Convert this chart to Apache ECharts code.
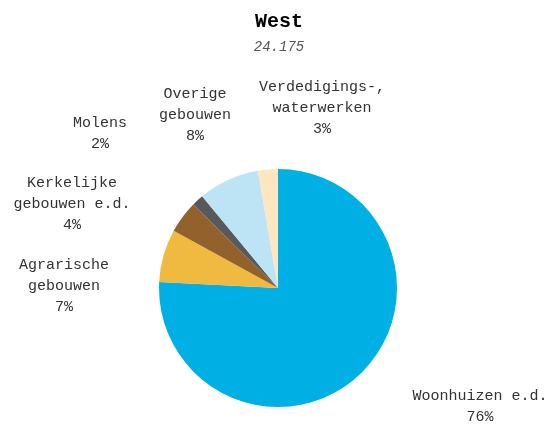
<!DOCTYPE html>
<html><head><meta charset="utf-8">
<script src="https://cdn.jsdelivr.net/npm/echarts@6/dist/echarts.min.js"></script>
<style>html,body{margin:0;padding:0;background:#fff}#c{width:558px;height:428px}</style>
</head><body><div id="c"></div>
<script>
var titleText = 'West';
var totalText = '24.175';
var categories = ['Woonhuizen e.d.', 'Agrarische\ngebouwen', 'Kerkelijke\ngebouwen e.d.', 'Molens', 'Overige\ngebouwen', 'Verdedigings-,\nwaterwerken'];
var values = [18323, 1741, 1064, 387, 2007, 653];
var colors = ['#00B0E4', '#F0BA41', '#93612B', '#58595B', '#BDE4F5', '#FDE6C0'];
// label block centres (layout only)
var labelPos = [[480, 407], [64, 286], [72, 204], [100, 134], [195, 115], [322, 108]];

var chart = echarts.init(document.getElementById('c'));
var font = '"Liberation Mono", "DejaVu Sans Mono", monospace';
chart.setOption({
  animation: false,
  title: {
    text: titleText, subtext: totalText, left: 'center', top: 7, itemGap: 8,
    textStyle: {fontFamily: font, fontWeight: 'bold', fontSize: 20, color: '#000'},
    subtextStyle: {fontFamily: font, fontStyle: 'italic', fontSize: 14, color: '#555'}
  },
  series: [{
    type: 'pie',
    center: [278, 288],
    radius: 119,
    startAngle: 90,
    clockwise: true,
    percentPrecision: 0,
    itemStyle: {borderWidth: 0},
    label: {
      show: true, position: 'outside', formatter: '{b}\n{d}%', overflow: 'none',
      fontFamily: font, fontSize: 15, color: '#333', lineHeight: 21, align: 'center'
    },
    labelLine: {show: false},
    labelLayout: function (p) {
      var q = labelPos[p.dataIndex];
      return {x: q[0], y: q[1], align: 'center', verticalAlign: 'middle'};
    },
    data: categories.map(function (c, i) {
      return {name: c, value: values[i], itemStyle: {color: colors[i]}};
    })
  }]
});
</script></body></html>
